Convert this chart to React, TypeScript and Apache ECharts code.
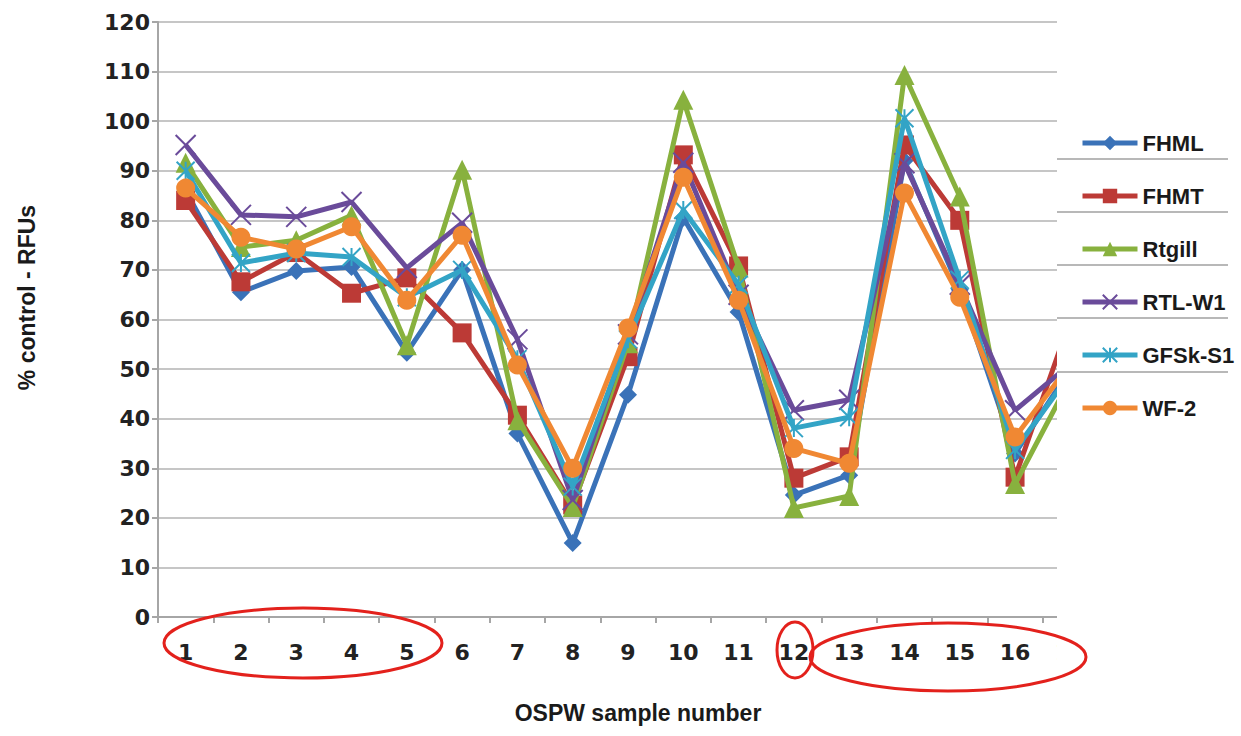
import React, { useEffect, useRef } from "react";
import * as echarts from "echarts";

const categories = ["1", "2", "3", "4", "5", "6", "7", "8", "9", "10", "11", "12", "13", "14", "15", "16", "17"];
const yTicks = { min: 0, max: 120, interval: 10 };

const seriesNames = ["FHML", "FHMT", "Rtgill", "RTL-W1", "GFSk-S1", "WF-2"];
const fhml = [86, 65.5, 69.8, 70.6, 53.3, 70, 37, 14.9, 44.8, 80.5, 61.5, 24.6, 28.6, 92, 66, 33, 50];
const fhmt = [84, 67.6, 73.5, 65.3, 68.4, 57.3, 40.7, 22.6, 52.5, 93.2, 70.8, 28, 32.3, 95.2, 80, 28.2, 60];
const rtgill = [91.6, 74.6, 76, 81, 54.8, 90.2, 39.7, 22.2, 55.2, 104.3, 70.5, 22, 24.4, 109.3, 84.8, 26.8, 48];
const rtlw1 = [95.2, 81.1, 80.7, 83.7, 70.4, 79.5, 56, 23.6, 57, 91.6, 65, 41.7, 43.8, 91.5, 67, 41.7, 51];
const gfsk = [90, 71.4, 73.4, 72.6, 64.5, 70, 52, 26.3, 56, 82.1, 67, 38.1, 40.3, 100.6, 68, 33.7, 49];
const wf2 = [86.5, 76.6, 74.2, 78.7, 63.9, 77, 50.8, 30, 58.3, 88.7, 63.9, 34, 31, 85.5, 64.5, 36.3, 51];

const seriesData = [fhml, fhmt, rtgill, rtlw1, gfsk, wf2];
const colors = ["#3a72b8", "#bc3a36", "#88b13e", "#6a4b9a", "#33a4c6", "#f08833"];
const symbols = [
  "diamond",
  "rect",
  "triangle",
  "path://M0,0L10,10M10,0L0,10",
  "path://M0,0L10,10M10,0L0,10M5,0L5,10",
  "circle",
];
const symbolSizes = [18, 19, 20, 20, 18, 19];

export default function App() {
  const ref = useRef<HTMLDivElement>(null);
  useEffect(() => {
    if (!ref.current) return;
    const chart = echarts.init(ref.current, null, { renderer: "svg" });
    const numFont = "DejaVu Sans";
    const txtFont = "Liberation Sans";
    const option: any = {
      animation: false,
      backgroundColor: "#ffffff",
      grid: { left: 158, top: 22, width: 940, height: 595, containLabel: false },
      xAxis: {
        type: "category",
        data: categories,
        boundaryGap: true,
        axisLine: { lineStyle: { color: "#a6a6a6", width: 2 } },
        axisTick: { show: true, length: 6, lineStyle: { color: "#a6a6a6", width: 2 } },
        axisLabel: {
          interval: 0,
          margin: 24,
          fontFamily: numFont,
          fontWeight: "bold",
          fontSize: 22,
          color: "#222222",
        },
        splitLine: { show: false },
        name: "OSPW sample number",
        nameLocation: "middle",
        nameGap: 84,
        nameTextStyle: {
          fontFamily: txtFont,
          fontWeight: "bold",
          fontSize: 23,
          color: "#1a1a1a",
          padding: [0, 0, 0, 20],
        },
      },
      yAxis: {
        type: "value",
        min: yTicks.min,
        max: yTicks.max,
        interval: yTicks.interval,
        axisLine: { show: true, lineStyle: { color: "#a6a6a6", width: 2 } },
        axisTick: { show: true, length: 6, lineStyle: { color: "#a6a6a6", width: 2 } },
        axisLabel: {
          margin: 8,
          fontFamily: numFont,
          fontWeight: "bold",
          fontSize: 22,
          color: "#222222",
        },
        splitLine: { show: true, lineStyle: { color: "#c6c6c6", width: 2 } },
        name: "% control - RFUs",
        nameLocation: "middle",
        nameRotate: 90,
        nameGap: 120,
        nameTextStyle: {
          fontFamily: txtFont,
          fontWeight: "bold",
          fontSize: 23,
          color: "#1a1a1a",
          padding: [0, 0, 0, 44],
        },
      },
      legend: {
        orient: "vertical",
        left: 1075,
        top: 126,
        z: 200,
        itemWidth: 55,
        itemHeight: 18,
        itemGap: 29,
        data: seriesNames,
        lineStyle: { width: 5 },
        textStyle: {
          fontFamily: txtFont,
          fontWeight: "bold",
          fontSize: 22,
          lineHeight: 24,
          color: "#1a1a1a",
        },
      },
      graphic: {
        elements: [
          {
            type: "rect",
            left: 1057,
            top: 0,
            z: 100,
            shape: { width: 184, height: 700 },
            style: { fill: "#ffffff" },
          },
          ...[159, 212, 265, 318, 372].map((y) => ({
            type: "line",
            z: 150,
            shape: { x1: 1057, y1: y, x2: 1228, y2: y },
            style: { stroke: "#a0a0a0", lineWidth: 1.5 },
          })),
          {
            type: "ellipse",
            z: 160,
            shape: { cx: 303, cy: 643, rx: 139, ry: 35 },
            style: { fill: "none", stroke: "#e3211c", lineWidth: 3 },
          },
          {
            type: "ellipse",
            z: 160,
            shape: { cx: 795, cy: 650, rx: 18, ry: 28 },
            style: { fill: "none", stroke: "#e3211c", lineWidth: 3 },
          },
          {
            type: "ellipse",
            z: 160,
            shape: { cx: 948, cy: 657, rx: 138, ry: 34 },
            style: { fill: "none", stroke: "#e3211c", lineWidth: 3 },
          },
        ],
      },
      series: seriesNames.map((name, i) => ({
        name,
        type: "line",
        data: seriesData[i],
        symbol: symbols[i],
        symbolSize: symbolSizes[i],
        showAllSymbol: true,
        z: 2 + i,
        lineStyle: { color: colors[i], width: 5 },
        itemStyle: {
          color: colors[i],
          borderColor: colors[i],
          borderWidth: i === 3 || i === 4 ? 2 : 0,
        },
      })),
    };
    chart.setOption(option);
    return () => chart.dispose();
  }, []);
  return (
    <div
      ref={ref}
      style={{ position: "absolute", left: 0, top: 0, width: 1241, height: 736 }}
    />
  );
}
